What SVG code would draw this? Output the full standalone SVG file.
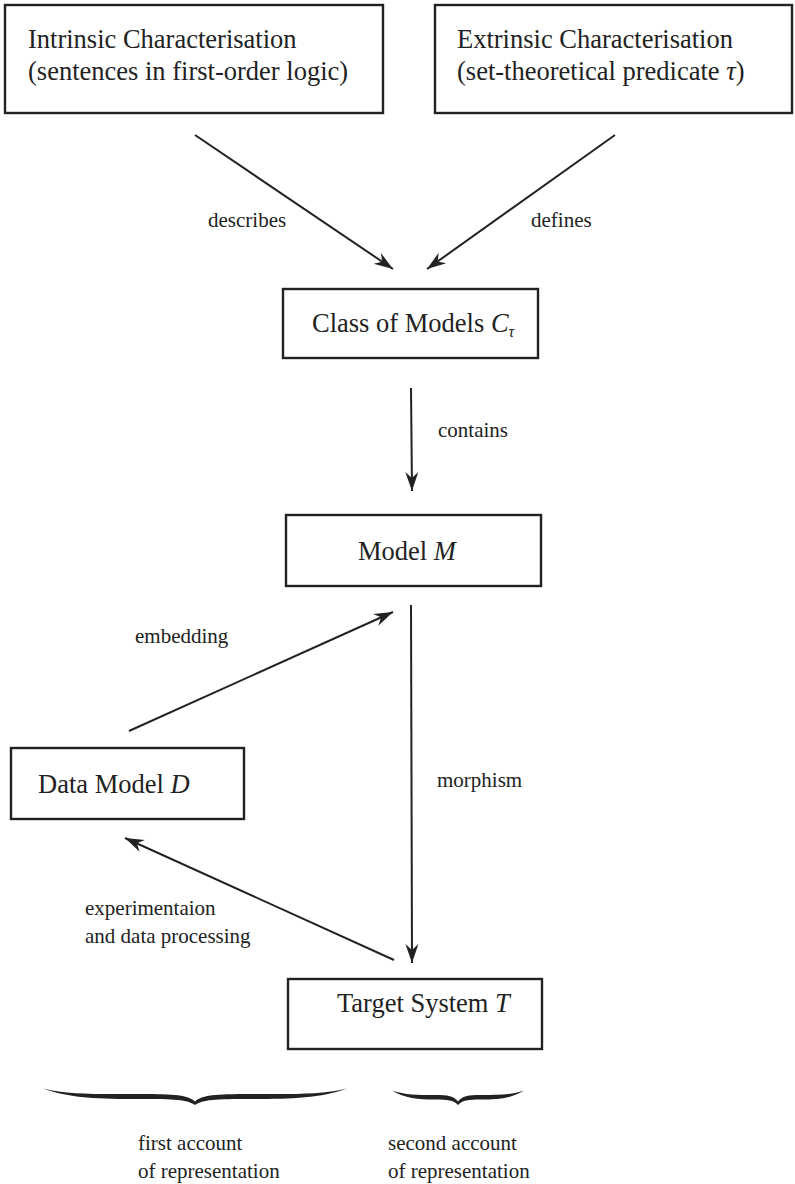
<svg xmlns="http://www.w3.org/2000/svg" width="795" height="1184" viewBox="0 0 795 1184">
  <style>
    .box { fill: #fff; stroke: #222; stroke-width: 2.4; }
    .t { font-family: 'Liberation Serif', 'DejaVu Serif', serif; font-size: 26.5px; fill: #222; }
    .lbl { font-family: 'Liberation Serif', 'DejaVu Serif', serif; font-size: 21px; fill: #222; }
    .it { font-style: italic; }
    .edge { fill: none; stroke: #222; stroke-width: 2; }
    .brace { fill: #222; stroke: none; }
  </style>
  <defs>
    <marker id="arrow" viewBox="-20 -8 22 16" refX="0" refY="0" markerWidth="22" markerHeight="16" markerUnits="userSpaceOnUse" orient="auto">
      <path d="M0,0 L-19,-6.5 L-13,0 L-19,6.5 Z" fill="#222"/>
    </marker>
  </defs>
  <rect width="795" height="1184" fill="#fff"/>

  <g id="intrinsic">
    <rect class="box" x="5" y="5" width="378" height="108"/>
    <text class="t" x="28" y="48">Intrinsic Characterisation</text>
    <text class="t" x="28" y="80">(sentences in first-order logic)</text>
  </g>

  <g id="extrinsic">
    <rect class="box" x="435" y="5" width="357" height="108"/>
    <text class="t" x="457" y="48">Extrinsic Characterisation</text>
    <text class="t" x="457" y="80">(set-theoretical predicate <tspan class="it">τ</tspan>)</text>
  </g>

  <g id="class-of-models">
    <rect class="box" x="283" y="289" width="255" height="69"/>
    <text class="t" x="312" y="332">Class of Models <tspan class="it">C</tspan><tspan class="it" font-size="16" dy="5">τ</tspan></text>
  </g>

  <g id="model-m">
    <rect class="box" x="286" y="515" width="255" height="71"/>
    <text class="t" x="358" y="560">Model <tspan class="it">M</tspan></text>
  </g>

  <g id="data-model">
    <rect class="box" x="11" y="748" width="233" height="71"/>
    <text class="t" x="38" y="793">Data Model <tspan class="it">D</tspan></text>
  </g>

  <g id="target-system">
    <rect class="box" x="288" y="979" width="254" height="70"/>
    <text class="t" x="337" y="1012">Target System <tspan class="it">T</tspan></text>
  </g>

  <g id="connectors">
    <line class="edge" x1="195" y1="135" x2="393" y2="269" marker-end="url(#arrow)"/>
    <line class="edge" x1="615" y1="135" x2="427" y2="269" marker-end="url(#arrow)"/>
    <line class="edge" x1="411" y1="388" x2="412" y2="491" marker-end="url(#arrow)"/>
    <line class="edge" x1="129" y1="731" x2="393" y2="612" marker-end="url(#arrow)"/>
    <line class="edge" x1="411" y1="605" x2="412" y2="963" marker-end="url(#arrow)"/>
    <line class="edge" x1="394" y1="960" x2="125" y2="838" marker-end="url(#arrow)"/>
    <text class="lbl" x="208" y="227">describes</text>
    <text class="lbl" x="531" y="227">defines</text>
    <text class="lbl" x="438" y="437">contains</text>
    <text class="lbl" x="135" y="643">embedding</text>
    <text class="lbl" x="437" y="787">morphism</text>
    <text class="lbl" x="85" y="915">experimentaion</text>
    <text class="lbl" x="85" y="943">and data processing</text>
  </g>

  <g id="first-account">
    <path class="brace" d="M43,1088.5 C70,1095 100,1094 140,1094 C175,1094 188,1095 195,1101.5 C202,1095 215,1094 250,1094 C290,1094 320,1095 347,1088.5 C320,1098.5 290,1099 250,1099 C215,1099 203,1099.5 195,1105 C187,1099.5 175,1099 140,1099 C100,1099 70,1098.5 43,1088.5 Z"/>
    <text class="lbl" x="138" y="1150">first account</text>
    <text class="lbl" x="138" y="1178">of representation</text>
  </g>

  <g id="second-account">
    <path class="brace" d="M392,1090.5 C405,1095 418,1095 435,1095 C448,1095 454,1096 458,1101.5 C462,1096 468,1095 481,1095 C498,1095 511,1095 524,1090.5 C511,1098.5 498,1099.5 481,1099.5 C468,1099.5 463,1100 458,1105 C453,1100 448,1099.5 435,1099.5 C418,1099.5 405,1098.5 392,1090.5 Z"/>
    <text class="lbl" x="388" y="1150">second account</text>
    <text class="lbl" x="388" y="1178">of representation</text>
  </g>
</svg>
